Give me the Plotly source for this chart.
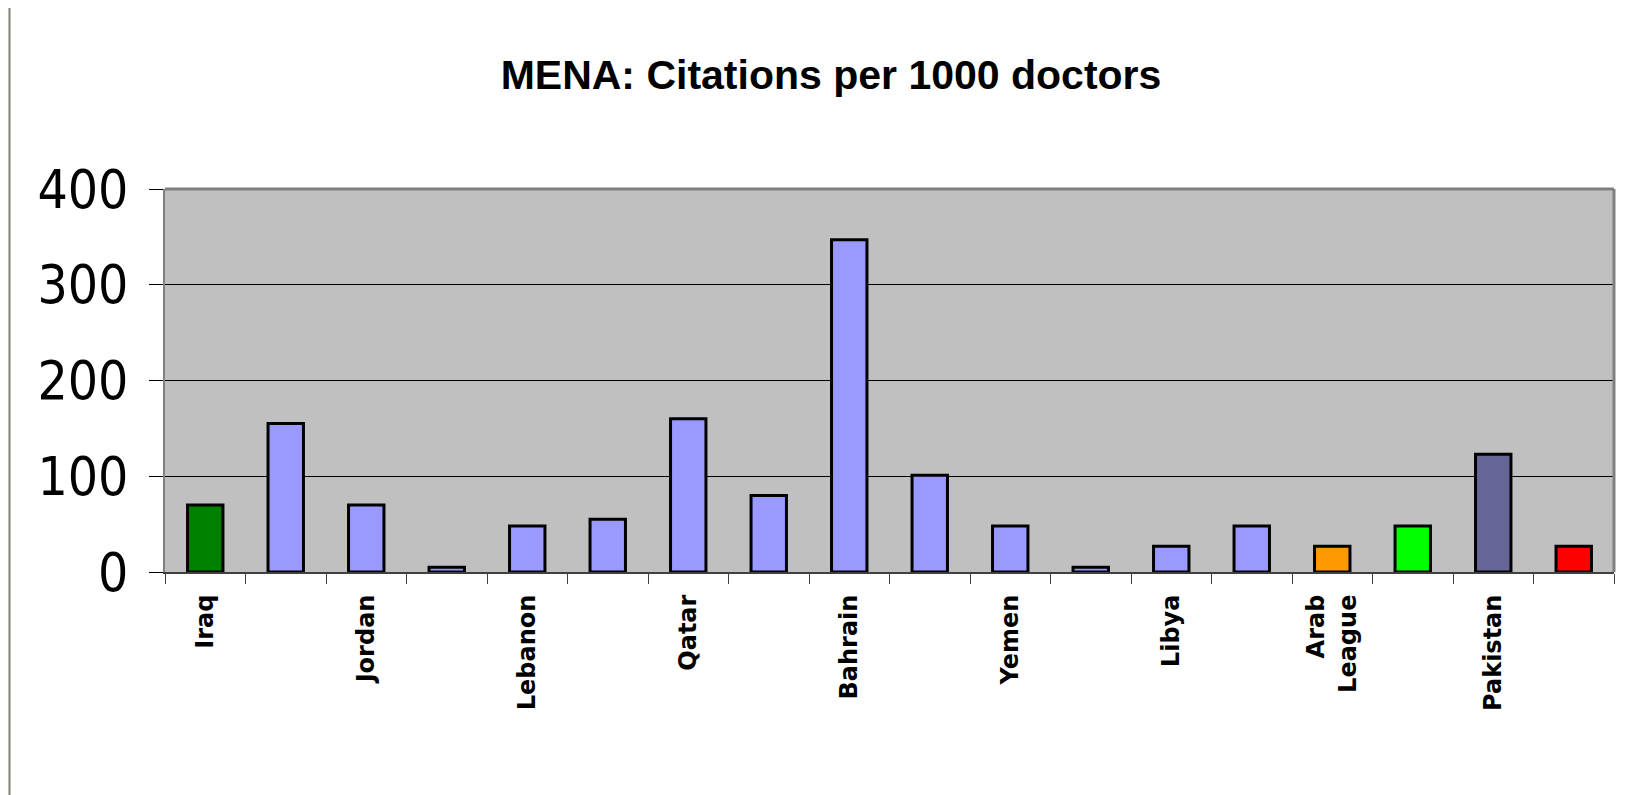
import plotly.graph_objects as go

# Data
labels = ["Iraq", "", "Jordan", "", "Lebanon", "", "Qatar", "", "Bahrain", "",
          "Yemen", "", "Libya", "", "Arab<br>League", "", "Pakistan", ""]
values = [70, 155, 70, 5, 48, 55, 160, 80, 347, 101, 48, 5, 27, 48, 27, 48, 123, 27]
colors = ["#008000", "#9999FF", "#9999FF", "#9999FF", "#9999FF", "#9999FF",
          "#9999FF", "#9999FF", "#9999FF", "#9999FF", "#9999FF", "#9999FF",
          "#9999FF", "#9999FF", "#FF9900", "#00FF00", "#666699", "#FF0000"]
y_ticks = [0, 100, 200, 300, 400]
title_text = "MENA: Citations per 1000 doctors"

# page body has an 8px default margin; figure sized to fit the window
OFF = 8
W, H = 1649 - OFF, 795 - OFF
L, T = 165 - OFF, 189 - OFF
R = W - (1614 - OFF)
B = H - (572 - OFF)
PW, PH = W - L - R, H - T - B

def px(x):
    return (x - OFF - L) / PW

def py(y):
    return (H - B - (y - OFF)) / PH

positions = list(range(len(values)))
shown = [i for i, s in enumerate(labels) if s]

fig = go.Figure(go.Bar(
    x=positions, y=values, width=0.44,
    marker=dict(color=colors, line=dict(color="#000000", width=3)),
))

shapes = [
    # white inner panel
    dict(type="rect", xref="paper", yref="paper", x0=px(9), x1=px(1660), y0=py(810), y1=py(5),
         fillcolor="#FFFFFF", line=dict(width=0), layer="below"),
    dict(type="line", xref="paper", yref="paper", x0=px(9.5), x1=px(9.5), y0=py(5), y1=py(810),
         line=dict(color="#808080", width=2), layer="below"),
    # plot area
    dict(type="rect", xref="paper", yref="paper", x0=0, x1=1, y0=0, y1=1,
         fillcolor="#C0C0C0", line=dict(width=0), layer="below"),
    dict(type="line", xref="paper", yref="paper", x0=0, x1=1, y0=1, y1=1,
         line=dict(color="#808080", width=3), layer="above"),
    dict(type="line", xref="paper", yref="paper", x0=1, x1=1, y0=0, y1=1,
         line=dict(color="#808080", width=3), layer="above"),
]

fig.update_layout(
    width=W, height=H,
    margin=dict(l=L, r=R, t=T, b=B),
    paper_bgcolor="#FFFFE0",
    plot_bgcolor="rgba(0,0,0,0)",
    showlegend=False,
    bargap=0.5,
    shapes=shapes,
    title=dict(text=f"<b>{title_text}</b>", x=(831 - OFF) / W, xanchor="center",
               y=1 - (75 - OFF) / H, yanchor="middle", yref="container",
               font=dict(family="Liberation Sans, Arial, sans-serif",
                         size=41, color="#000000")),
    xaxis=dict(
        range=[-0.5, len(values) - 0.5],
        tickmode="array", tickvals=shown, ticktext=[f"<b>{labels[i]}</b>" for i in shown],
        tickangle=-90, ticks="", showgrid=False, zeroline=False,
        showline=True, linecolor="#404040", linewidth=2,
        tickfont=dict(family="DejaVu Sans", size=24, color="#000000"),
        ticklabelstandoff=11,
        minor=dict(tickmode="linear", tick0=-0.5, dtick=1, ticks="outside",
                   ticklen=10, tickcolor="#404040", tickwidth=1, showgrid=False),
        fixedrange=True,
    ),
    yaxis=dict(
        range=[0, 400], tickmode="array", tickvals=y_ticks,
        ticks="outside", ticklen=14, tickcolor="#000000", tickwidth=1,
        showgrid=True, gridcolor="#000000", gridwidth=1,
        zeroline=False, showline=True, linecolor="#808080", linewidth=2,
        tickfont=dict(family="DejaVu Sans Condensed, DejaVu Sans",
                      size=53, color="#000000"),
        ticklabelstandoff=10,
        fixedrange=True,
    ),
)

fig.write_html("out.html")
